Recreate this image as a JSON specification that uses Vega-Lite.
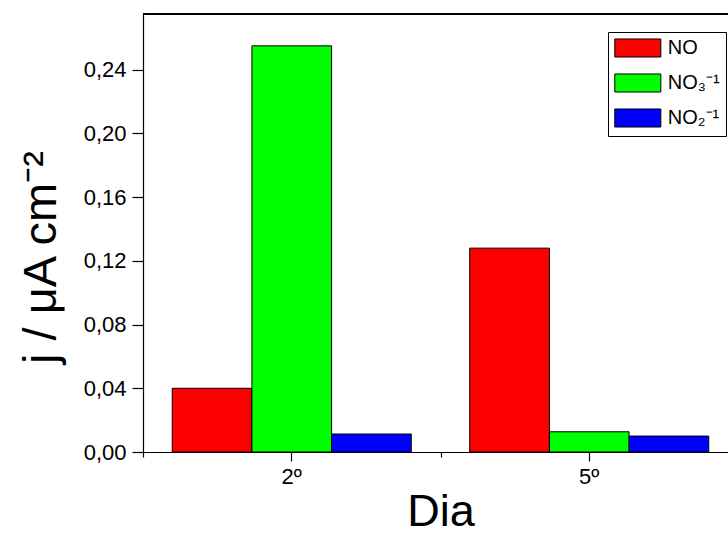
{
  "$schema": "https://vega.github.io/schema/vega-lite/v6.json",
  "width": 585,
  "height": 438,
  "autosize": "none",
  "padding": {"left": 143, "top": 14, "right": 0, "bottom": 82},
  "background": "white",
  "config": {
    "view": {"stroke": null},
    "font": "Liberation Sans",
    "axis": {
      "domainColor": "black",
      "domainWidth": 1.2,
      "tickColor": "black",
      "tickWidth": 1.2,
      "labelColor": "black",
      "titleColor": "black",
      "labelFont": "Liberation Sans",
      "titleFont": "Liberation Sans",
      "titleFontWeight": "normal",
      "grid": false
    }
  },
  "data": {
    "values": [
      {"dia": "2º", "especie": "NO", "j": 0.040},
      {"dia": "2º", "especie": "NO₃⁻¹", "j": 0.255},
      {"dia": "2º", "especie": "NO₂⁻¹", "j": 0.0113},
      {"dia": "5º", "especie": "NO", "j": 0.128},
      {"dia": "5º", "especie": "NO₃⁻¹", "j": 0.0127},
      {"dia": "5º", "especie": "NO₂⁻¹", "j": 0.010}
    ]
  },
  "layer": [
    {
      "mark": {"type": "bar", "stroke": "black", "strokeWidth": 1},
      "encoding": {
        "x": {
          "field": "dia",
          "type": "nominal",
          "sort": ["2º", "5º"],
          "scale": {"range": [0, 595], "paddingInner": 0, "paddingOuter": 0},
          "axis": {
            "orient": "bottom",
            "title": "Dia",
            "titleFontSize": 45,
            "titlePadding": 2,
            "labelFontSize": 22,
            "labelAngle": 0,
            "labelPadding": 5,
            "tickSize": 9
          }
        },
        "xOffset": {
          "field": "especie",
          "type": "nominal",
          "sort": ["NO", "NO₃⁻¹", "NO₂⁻¹"],
          "scale": {"paddingInner": 0, "paddingOuter": 0.367}
        },
        "y": {
          "field": "j",
          "type": "quantitative",
          "scale": {"domain": [0, 0.275], "nice": false, "zero": true},
          "axis": {
            "title": "j / μA cm⁻²",
            "titleFontSize": 47,
            "titlePadding": 18,
            "titleY": 243,
            "values": [0, 0.02, 0.04, 0.06, 0.08, 0.10, 0.12, 0.14, 0.16, 0.18, 0.20, 0.22, 0.24, 0.26],
            "labelExpr": "round(datum.value*100) % 4 === 0 ? replace(format(datum.value, '.2f'), '.', ',') : ''",
            "labelFontSize": 22,
            "labelPadding": 6,
            "tickSize": {"condition": {"test": "round(datum.value*100) % 4 === 0", "value": 11}, "value": 5}
          }
        },
        "color": {
          "field": "especie",
          "type": "nominal",
          "sort": ["NO", "NO₃⁻¹", "NO₂⁻¹"],
          "scale": {"domain": ["NO", "NO₃⁻¹", "NO₂⁻¹"], "range": ["#ff0000", "#00ff00", "#0000ff"]},
          "legend": {
            "title": null,
            "orient": "none",
            "legendX": 465,
            "legendY": 18,
            "padding": 6,
            "strokeColor": "black",
            "fillColor": "white",
            "symbolType": "M-2.5,-0.98H2.5V0.98H-2.5Z",
            "symbolSize": 339,
            "symbolStrokeColor": "black",
            "symbolStrokeWidth": 1,
            "symbolOpacity": 1,
            "symbolOffset": 13.8,
            "labelFontSize": 20,
            "labelFont": "Liberation Sans",
            "labelColor": "black",
            "labelOffset": 20,
            "rowPadding": 11
          }
        }
      }
    },
    {
      "mark": {"type": "bar", "opacity": 0},
      "encoding": {
        "x": {
          "field": "dia",
          "type": "nominal",
          "sort": ["2º", "5º"],
          "axis": {
            "orient": "bottom",
            "tickBand": "extent",
            "labels": false,
            "domain": false,
            "title": null,
            "tickSize": 5
          }
        },
        "y": {"field": "j", "type": "quantitative"}
      }
    },
    {
      "mark": {"type": "rule", "color": "black", "strokeWidth": 1.2},
      "encoding": {"y": {"datum": 0.275}}
    }
  ],
  "resolve": {"axis": {"x": "independent"}}
}
